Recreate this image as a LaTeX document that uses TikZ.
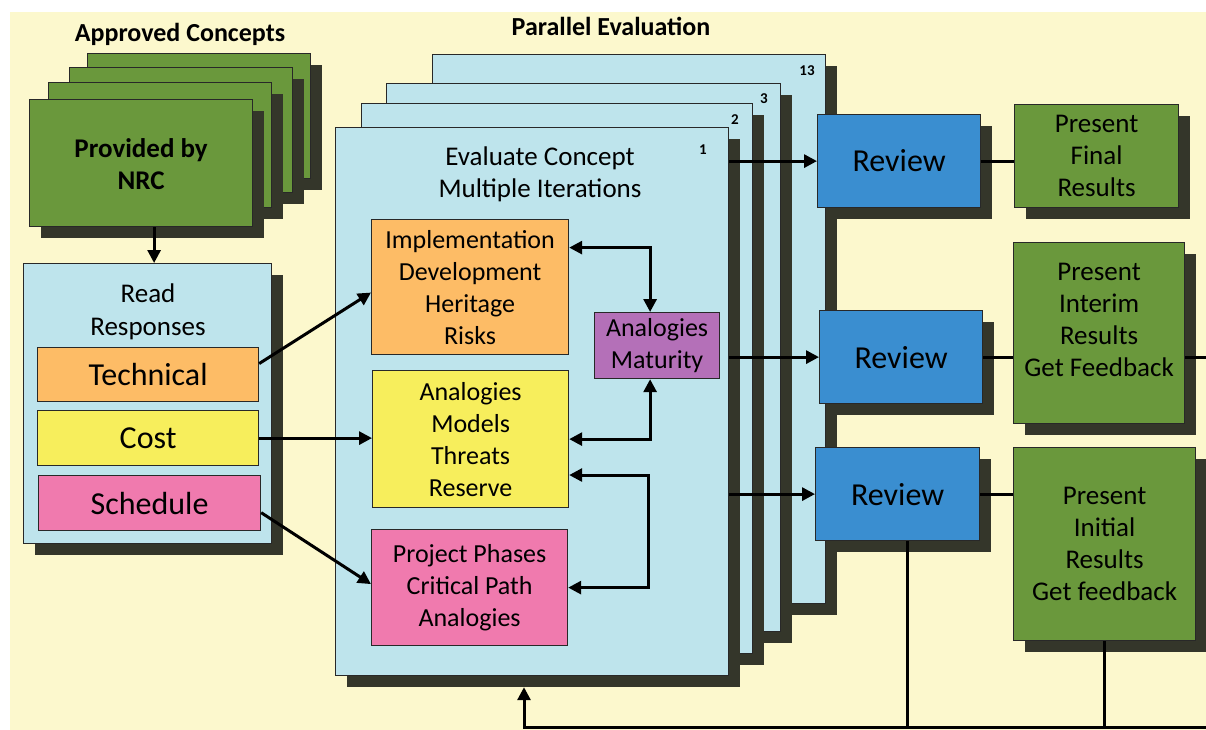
\documentclass[tikz,border=0pt]{standalone}
\usepackage{fontspec}
\setmainfont{Carlito}
\usetikzlibrary{arrows.meta,shadows,calc}
\definecolor{bgy}{RGB}{252,248,205}
\definecolor{lblue}{RGB}{190,228,236}
\definecolor{cgreen}{RGB}{106,152,60}
\definecolor{cblue}{RGB}{58,142,208}
\definecolor{corange}{RGB}{253,188,102}
\definecolor{cyellow}{RGB}{247,238,92}
\definecolor{cpink}{RGB}{240,122,174}
\definecolor{cpurple}{RGB}{180,112,184}
\definecolor{shadowc}{RGB}{52,54,42}
\definecolor{edgec}{RGB}{40,40,40}
\newcommand\fsA{\fontsize{26}{32}\selectfont}
\newcommand\fsB{\fontsize{27}{32}\selectfont}
\newcommand\fsR{\fontsize{27}{33}\selectfont}
\newcommand\fsC{\fontsize{32}{38}\selectfont}
\newcommand\fsN{\fontsize{15}{18}\selectfont}
\tikzset{
  box/.style={draw=edgec, line width=1.2pt, anchor=north west, inner sep=0pt, align=center},
  shad/.style={drop shadow={shadow xshift=11pt, shadow yshift=-11pt, fill=shadowc, opacity=1}},
  arr/.style={line width=3pt, -{Triangle[length=13pt,width=13pt]}},
  darr/.style={line width=3pt, {Triangle[length=13pt,width=13pt]}-{Triangle[length=13pt,width=13pt]}},
  conn/.style={line width=3pt},
  lbl/.style={align=center, inner sep=0pt}
}
\begin{document}
\begin{tikzpicture}[x=1pt,y=-1pt]
\useasboundingbox (0,0) rectangle (1206,730);
\fill[white] (0,0) rectangle (1206,730);
\fill[bgy] (10,12) rectangle (1206,730);

% titles
\node[anchor=base, font=\bfseries\fsA] (tApp) at (180,42) {Approved Concepts};
\node[anchor=base, font=\bfseries\fsA] (tPar) at (611,36) {Parallel Evaluation};

% green stack
\node[box, shad, fill=cgreen, minimum width=223pt, minimum height=125pt] (g4) at (87,53) {};
\node[box, shad, fill=cgreen, minimum width=223pt, minimum height=125pt] (g3) at (69,67) {};
\node[box, shad, fill=cgreen, minimum width=223pt, minimum height=125pt] (g2) at (48,82) {};
\node[box, shad, fill=cgreen, minimum width=223pt, minimum height=127pt] (g1) at (29,99) {};
\node[lbl, font=\bfseries\fsB] (g1t) at ($(g1.center)+(0,1)$) {Provided by\\NRC};

% read responses
\node[box, shad, fill=lblue, minimum width=248pt, minimum height=280pt] (read) at (23,263) {};
\node[lbl, font=\fsR] (readt) at (148,312) {Read\\Responses};
\node[box, fill=corange, minimum width=221pt, minimum height=54pt, font=\fsC] (tech) at (37,347) {Technical};
\node[box, fill=cyellow, minimum width=221pt, minimum height=55pt, font=\fsC] (cost) at (37,410) {Cost};
\node[box, fill=cpink, minimum width=222pt, minimum height=55pt, font=\fsC] (sched) at (38,475) {Schedule};

\coordinate (gA) at ($(g1.south)+(13,0)$);
\draw[arr] (gA) -- (gA |- read.north);

% parallel evaluation stack
\node[box, shad, fill=lblue, minimum width=393pt, minimum height=549pt] (c13) at (432,54) {};
\node[box, shad, fill=lblue, minimum width=394pt, minimum height=548pt] (c3) at (386,83) {};
\node[box, shad, fill=lblue, minimum width=391pt, minimum height=550pt] (c2) at (361,103) {};
\node[box, shad, fill=lblue, minimum width=393pt, minimum height=548pt] (c1) at (335,127) {};
\node[lbl, font=\bfseries\fsN] (n13) at (807,71) {13};
\node[lbl, font=\bfseries\fsN] (n3) at (764,99) {3};
\node[lbl, font=\bfseries\fsN] (n2) at (735,120) {2};
\node[lbl, font=\bfseries\fsN] (n1) at (703,150) {1};
\node[lbl, font=\fsB] (c1t) at (540,174) {Evaluate Concept\\Multiple Iterations};

% inner boxes
\node[box, fill=corange, minimum width=197pt, minimum height=135pt, font=\fsA] (orange) at (371,219) {Implementation\\Development\\Heritage\\Risks};
\node[box, fill=cyellow, minimum width=196pt, minimum height=137pt, font=\fsA] (yellow) at (372,370) {Analogies\\Models\\Threats\\Reserve};
\node[box, fill=cpink, minimum width=196pt, minimum height=116pt, font=\fsA] (pink) at (371,529) {Project Phases\\Critical Path\\Analogies};
\node[box, fill=cpurple, minimum width=125pt, minimum height=66pt, font=\fsA] (purple) at (594,312) {Analogies\\Maturity};

% left arrows
\draw[arr] ($(tech.north east)!0.3!(tech.south east)$) -- ($(orange.north west)!0.54!(orange.south west)$);
\draw[arr] (cost.east) -- (cost.east -| yellow.west);
\draw[arr] ($(sched.north east)!0.67!(sched.south east)$) -- ($(pink.north west)!0.47!(pink.south west)$);

% inner arrows
\coordinate (pn) at ($(purple.north)+(-7,0)$);
\coordinate (ps) at ($(purple.south)+(-7,0)$);
\draw[darr] ($(orange.north east)!0.21!(orange.south east)$) -| (pn);
\draw[darr] (yellow.east) -| (ps);
\draw[darr] ($(yellow.north east)!0.76!(yellow.south east)$) -- ++(79,0) |- (pink.east);

% review boxes
\node[box, shad, fill=cblue, minimum width=163pt, minimum height=93pt, font=\fsC] (rev1) at (817,114) {Review};
\node[box, shad, fill=cblue, minimum width=163pt, minimum height=93pt, font=\fsC] (rev2) at (819,310) {Review};
\node[box, shad, fill=cblue, minimum width=164pt, minimum height=93pt, font=\fsC] (rev3) at (815,447) {Review};

% present boxes
\node[box, shad, fill=cgreen, minimum width=164pt, minimum height=103pt, font=\fsB] (p1) at (1014,104) {Present\\Final\\Results};
\node[box, shad, fill=cgreen, minimum width=171pt, minimum height=181pt] (p2) at (1013,242) {};
\node[lbl, font=\fsB] (p2t) at ($(p2.center)+(0,-13)$) {Present\\Interim\\Results\\Get Feedback};
\node[box, shad, fill=cgreen, minimum width=182pt, minimum height=193pt, font=\fsB] (p3) at (1013,447) {Present\\Initial\\Results\\Get feedback};

% arrows to reviews
\draw[arr] (c1.east |- rev1.west) -- (rev1.west);
\draw[arr] (c1.east |- rev2.west) -- (rev2.west);
\draw[arr] (c1.east |- rev3.west) -- (rev3.west);

% review to present
\draw[conn] (rev1.east) -- (rev1.east -| p1.west);
\draw[conn] (rev2.east) -- (rev2.east -| p2.west);
\draw[conn] (rev3.east) -- (rev3.east -| p3.west);
\coordinate (eR) at (1206,357);
\draw[conn] (p2.east |- eR) -- (eR);

% feedback loop
\coordinate (botR) at (1206,727);
\coordinate (botL) at (524,727);
\coordinate (r3b) at ($(rev3.south)+(10,0)$);
\draw[conn] (r3b) -- (r3b |- botR);
\draw[conn] (p3.south) -- (p3.south |- botR);
\coordinate (fbT) at ($(c1.south -| botL)+(0,11)$);
\draw[arr] (botR) -- (botL) -- (fbT);
\end{tikzpicture}
\end{document}
